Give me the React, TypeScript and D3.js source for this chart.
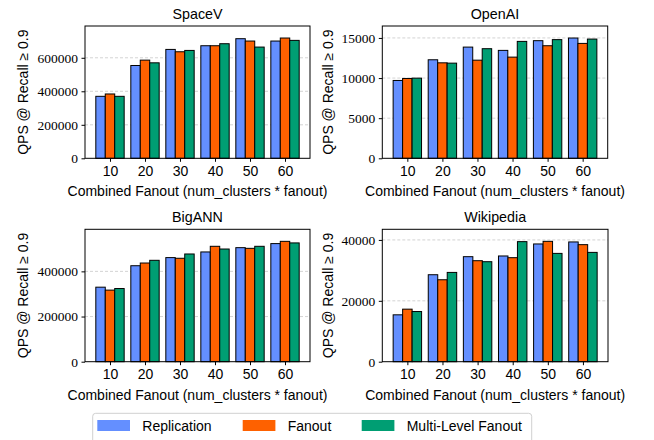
import React, { useEffect, useRef } from "react";
import * as d3 from "d3";

const categories = [10, 20, 30, 40, 50, 60];
const seriesNames = ["Replication", "Fanout", "Multi-Level Fanout"];
const seriesColors = ["#648FFF", "#FE6100", "#009E73"];

const spaceVReplication = [370000, 554000, 650000, 672000, 714000, 700000];
const spaceVFanout = [384000, 586000, 636000, 672000, 700000, 718000];
const spaceVMultiLevel = [370000, 570000, 644000, 684000, 664000, 704000];
const spaceVTicks = [0, 200000, 400000, 600000];

const openAIReplication = [9700, 12280, 13860, 13450, 14660, 14990];
const openAIFanout = [9950, 11900, 12230, 12610, 14030, 14320];
const openAIMultiLevel = [9990, 11860, 13660, 14570, 14790, 14860];
const openAITicks = [0, 5000, 10000, 15000];

const bigANNReplication = [330000, 425000, 461000, 486000, 505000, 523000];
const bigANNFanout = [317000, 437000, 458000, 511000, 502000, 533000];
const bigANNMultiLevel = [324000, 449000, 477000, 499000, 511000, 526000];
const bigANNTicks = [0, 200000, 400000];

const wikiReplication = [15400, 28570, 34500, 34730, 38680, 39340];
const wikiFanout = [17260, 26920, 33180, 34170, 39540, 38450];
const wikiMultiLevel = [16480, 29330, 32850, 39440, 35580, 35910];
const wikiTicks = [0, 20000, 40000];

const xLabel = "Combined Fanout (num_clusters * fanout)";
const yLabel = "QPS @ Recall \u2265 0.9";

const SANS = "'Liberation Sans', Arial, sans-serif";
const SERIF = "'Liberation Serif', 'DejaVu Serif', serif";

export default function App() {
  const svgRef = useRef<SVGSVGElement | null>(null);

  useEffect(() => {
    if (!svgRef.current) return;
    const width = 654;
    const height = 440;
    const svg = d3.select(svgRef.current);
    svg.selectAll("*").remove();
    svg.attr("width", width).attr("height", height);
    svg.append("rect").attr("width", width).attr("height", height).attr("fill", "#fff");

    const panels = [
      { title: "SpaceV", series: [spaceVReplication, spaceVFanout, spaceVMultiLevel], ticks: spaceVTicks, box: [85, 310, 26, 158.3] },
      { title: "OpenAI", series: [openAIReplication, openAIFanout, openAIMultiLevel], ticks: openAITicks, box: [382.3, 607.7, 26, 158.3] },
      { title: "BigANN", series: [bigANNReplication, bigANNFanout, bigANNMultiLevel], ticks: bigANNTicks, box: [85, 310, 229.3, 361.7] },
      { title: "Wikipedia", series: [wikiReplication, wikiFanout, wikiMultiLevel], ticks: wikiTicks, box: [382.3, 608, 229.3, 361.7] },
    ];

    const barW = 0.27;

    panels.forEach((p) => {
      const [left, right, top, bottom] = p.box;
      const maxV = d3.max(p.series.flat()) as number;
      const x = d3.scaleLinear().domain([-0.714, categories.length - 1 + 0.714]).range([left, right]);
      const y = d3.scaleLinear().domain([0, maxV * 1.1]).range([bottom, top]);
      const g = svg.append("g");

      // grid
      g.selectAll("line.grid")
        .data(p.ticks.filter((t) => t > 0))
        .join("line")
        .attr("x1", left)
        .attr("x2", right)
        .attr("y1", (d) => y(d))
        .attr("y2", (d) => y(d))
        .attr("stroke", "#c8c8c8")
        .attr("stroke-width", 0.8)
        .attr("stroke-dasharray", "3,2");

      // bars
      p.series.forEach((vals, si) => {
        g.append("g")
          .selectAll("rect")
          .data(vals)
          .join("rect")
          .attr("x", (_, i) => x(i + (si - 1) * barW - barW / 2))
          .attr("y", (d) => y(d))
          .attr("width", x(barW) - x(0))
          .attr("height", (d) => bottom - y(d))
          .attr("fill", seriesColors[si])
          .attr("stroke", "#000")
          .attr("stroke-width", 1);
      });

      // frame
      g.append("rect")
        .attr("x", left)
        .attr("y", top)
        .attr("width", right - left)
        .attr("height", bottom - top)
        .attr("fill", "none")
        .attr("stroke", "#000")
        .attr("stroke-width", 1);

      // y axis
      const yAxis = g
        .append("g")
        .attr("transform", `translate(${left},0)`)
        .call(d3.axisLeft(y).tickValues(p.ticks).tickFormat(d3.format("d")).tickSize(3.5).tickPadding(3.5));
      yAxis.select(".domain").remove();
      yAxis.attr("font-family", SERIF).attr("font-size", 13.5);
      yAxis.selectAll("text").attr("fill", "#000");

      // x axis
      const xAxis = g
        .append("g")
        .attr("transform", `translate(0,${bottom})`)
        .call(
          d3
            .axisBottom(x)
            .tickValues(d3.range(categories.length))
            .tickFormat((d) => String(categories[d as number]))
            .tickSize(3.5)
            .tickPadding(4)
        );
      xAxis.select(".domain").remove();
      xAxis.attr("font-family", SANS).attr("font-size", 14);
      xAxis.selectAll("text").attr("fill", "#000");

      // title
      g.append("text")
        .attr("x", (left + right) / 2)
        .attr("y", top - 7)
        .attr("text-anchor", "middle")
        .attr("font-family", SANS)
        .attr("font-size", 14.3)
        .text(p.title);

      // x label
      g.append("text")
        .attr("x", (left + right) / 2)
        .attr("y", bottom + 38)
        .attr("text-anchor", "middle")
        .attr("font-family", SANS)
        .attr("font-size", 14)
        .text(xLabel);

      // y label
      const digits = String(d3.max(p.ticks)).length;
      const lx = left - 13 - digits * 7.3;
      g.append("text")
        .attr("transform", `translate(${lx},${(top + bottom) / 2}) rotate(-90)`)
        .attr("text-anchor", "middle")
        .attr("font-family", SANS)
        .attr("font-size", 14)
        .text(yLabel);
    });

    // legend
    const legend = svg.append("g");
    legend
      .append("rect")
      .attr("x", 92.7)
      .attr("y", 413.3)
      .attr("width", 439)
      .attr("height", 30)
      .attr("rx", 3)
      .attr("fill", "#fff")
      .attr("stroke", "#d0d0d0")
      .attr("stroke-width", 1);
    const legendX = [97.3, 242.7, 361.7];
    seriesNames.forEach((name, i) => {
      legend
        .append("rect")
        .attr("x", legendX[i])
        .attr("y", 420)
        .attr("width", 32.7)
        .attr("height", 11)
        .attr("fill", seriesColors[i]);
      legend
        .append("text")
        .attr("x", legendX[i] + 45)
        .attr("y", 431)
        .attr("font-family", SANS)
        .attr("font-size", 14)
        .text(name);
    });
  }, []);

  return (
    <div style={{ position: "absolute", left: 0, top: 0 }}>
      <svg ref={svgRef} style={{ display: "block" }} />
    </div>
  );
}
